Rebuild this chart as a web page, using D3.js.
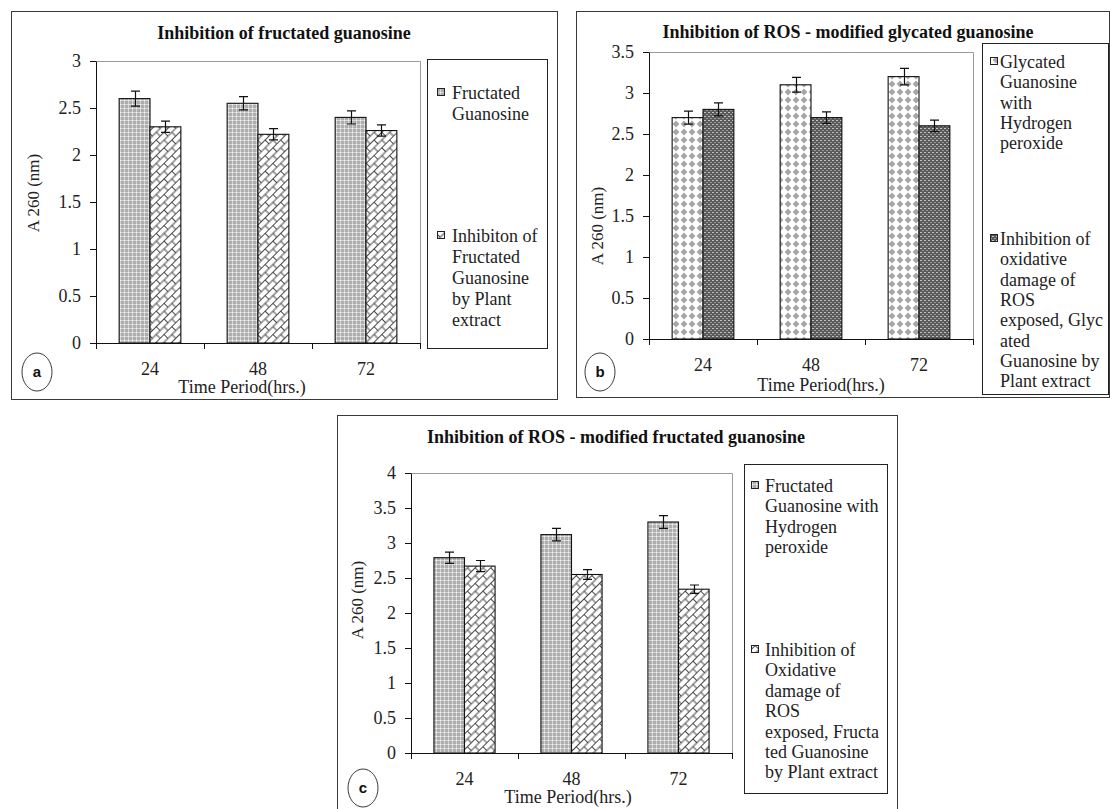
<!DOCTYPE html>
<html><head><meta charset="utf-8">
<script src="https://cdn.jsdelivr.net/npm/d3@7"></script>
<style>
body{margin:0;background:#fff}
svg{display:block}
text{font-family:"Liberation Serif","Times New Roman",serif;fill:#111}
</style>
</head><body>
<svg id="chart" width="1110" height="809"></svg>
<script>
// ---------------- data ----------------
const categories = ["24", "48", "72"];

const aFructated = [2.6, 2.55, 2.4];
const aFructatedErr = [0.08, 0.07, 0.07];
const aInhibition = [2.3, 2.22, 2.26];
const aInhibitionErr = [0.06, 0.06, 0.06];

const bGlycatedH2O2 = [2.7, 3.1, 3.2];
const bGlycatedH2O2Err = [0.08, 0.09, 0.1];
const bInhibition = [2.8, 2.7, 2.6];
const bInhibitionErr = [0.08, 0.07, 0.07];

const cFructatedH2O2 = [2.79, 3.12, 3.3];
const cFructatedH2O2Err = [0.08, 0.09, 0.09];
const cInhibition = [2.67, 2.55, 2.34];
const cInhibitionErr = [0.08, 0.07, 0.06];

const yTicksA = [0, 0.5, 1, 1.5, 2, 2.5, 3];
const yTickLabelsA = ["0", "0.5", "1", "1.5", "2", "2.5", "3"];
const yTicksB = [0, 0.5, 1, 1.5, 2, 2.5, 3, 3.5];
const yTickLabelsB = ["0", "0.5", "1", "1.5", "2", "2.5", "3", "3.5"];
const yTicksC = [0, 0.5, 1, 1.5, 2, 2.5, 3, 3.5, 4];
const yTickLabelsC = ["0", "0.5", "1", "1.5", "2", "2.5", "3", "3.5", "4"];

const titleA = "Inhibition of fructated guanosine";
const titleB = "Inhibition of ROS - modified glycated guanosine";
const titleC = "Inhibition of ROS - modified fructated guanosine";
const yAxisTitle = "A 260 (nm)";
const xAxisTitle = "Time Period(hrs.)";

const legendA1 = ["Fructated", "Guanosine"];
const legendA2 = ["Inhibiton of", "Fructated", "Guanosine", "by Plant", "extract"];
const legendB1 = ["Glycated", "Guanosine", "with", "Hydrogen", "peroxide"];
const legendB2 = ["Inhibition of", "oxidative", "damage of", "ROS", "exposed, Glyc", "ated", "Guanosine by", "Plant extract"];
const legendC1 = ["Fructated", "Guanosine with", "Hydrogen", "peroxide"];
const legendC2 = ["Inhibition of", "Oxidative", "damage of", "ROS", "exposed, Fructa", "ted Guanosine", "by Plant extract"];

// ---------------- patterns ----------------
const svg = d3.select("#chart");
svg.append("rect").attr("width", 1110).attr("height", 809).attr("fill", "#fff");
const defs = svg.append("defs");

// light gray fine grid
const pDots = defs.append("pattern").attr("id", "dots").attr("patternUnits", "userSpaceOnUse").attr("width", 4).attr("height", 4);
pDots.append("rect").attr("width", 4).attr("height", 4).attr("fill", "#adadad");
pDots.append("rect").attr("width", 4).attr("height", 1).attr("fill", "#d6d6d6");
pDots.append("rect").attr("width", 1).attr("height", 4).attr("fill", "#d6d6d6");
pDots.append("rect").attr("width", 1).attr("height", 1).attr("fill", "#f2f2f2");

// diagonal brick
const pBrick = defs.append("pattern").attr("id", "brick").attr("patternUnits", "userSpaceOnUse")
  .attr("width", 11).attr("height", 11).attr("patternTransform", "rotate(-45)");
pBrick.append("rect").attr("width", 11).attr("height", 11).attr("fill", "#fff");
pBrick.append("path").attr("d", "M0,0.5H11M0,6H11M0.5,0.5V6M6,6V11")
  .attr("stroke", "#333").attr("stroke-width", 0.9).attr("fill", "none");

// light diamonds
const pDiam = defs.append("pattern").attr("id", "diam").attr("patternUnits", "userSpaceOnUse").attr("width", 8).attr("height", 8);
pDiam.append("rect").attr("width", 8).attr("height", 8).attr("fill", "#fff");
pDiam.append("path").attr("d", "M4,0.6L7.4,4L4,7.4L0.6,4Z").attr("fill", "#a6a6a6");

// dark checker
const pDark = defs.append("pattern").attr("id", "dark").attr("patternUnits", "userSpaceOnUse").attr("width", 4).attr("height", 4);
pDark.append("rect").attr("width", 4).attr("height", 4).attr("fill", "#5a5a5a");
pDark.append("rect").attr("x", 0).attr("y", 0).attr("width", 2).attr("height", 1).attr("fill", "#c4c4c4");
pDark.append("rect").attr("x", 2).attr("y", 2).attr("width", 2).attr("height", 1).attr("fill", "#9a9a9a");

// ---------------- layout ----------------
const panels = [
  {
    box: [11, 11, 546, 388], plot: { l: 96, r: 420, t: 61, b: 343 }, yMax: 3,
    yTicks: yTicksA, yTickLabels: yTickLabelsA,
    series: [
      { values: aFructated, err: aFructatedErr, fill: "url(#dots)" },
      { values: aInhibition, err: aInhibitionErr, fill: "url(#brick)" }
    ],
    title: titleA, titlePos: [284, 39],
    legend: { box: [427, 59, 120, 289], markerX: 437, textX: 452, lh: 21,
      items: [{ lines: legendA1, y0: 99 }, { lines: legendA2, y0: 242 }] },
    circle: [37, 372, "a"], ylabel: [33, 193], xlabel: [242, 393]
  },
  {
    box: [576, 11, 533, 386], plot: { l: 649, r: 973, t: 52, b: 339 }, yMax: 3.5,
    yTicks: yTicksB, yTickLabels: yTickLabelsB,
    series: [
      { values: bGlycatedH2O2, err: bGlycatedH2O2Err, fill: "url(#diam)" },
      { values: bInhibition, err: bInhibitionErr, fill: "url(#dark)" }
    ],
    title: titleB, titlePos: [848, 38],
    legend: { box: [982, 43, 126, 351], markerX: 990, textX: 1000, lh: 20.3,
      items: [{ lines: legendB1, y0: 68 }, { lines: legendB2, y0: 245 }] },
    circle: [600, 372, "b"], ylabel: [597, 226], xlabel: [821, 391]
  },
  {
    box: [337, 415, 560, 400], plot: { l: 411, r: 732, t: 473, b: 753 }, yMax: 4,
    yTicks: yTicksC, yTickLabels: yTickLabelsC,
    series: [
      { values: cFructatedH2O2, err: cFructatedH2O2Err, fill: "url(#dots)" },
      { values: cInhibition, err: cInhibitionErr, fill: "url(#brick)" }
    ],
    title: titleC, titlePos: [616, 443],
    legend: { box: [744, 464, 143, 329], markerX: 751, textX: 765, lh: 20.4,
      items: [{ lines: legendC1, y0: 492 }, { lines: legendC2, y0: 656 }] },
    circle: [363, 788, "c"], ylabel: [357, 600], xlabel: [568, 803]
  }
];

function drawPanel(p) {
  const g = svg.append("g");
  const { l, r, t, b } = p.plot;
  g.append("rect").attr("x", p.box[0] + 0.5).attr("y", p.box[1] + 0.5)
    .attr("width", p.box[2]).attr("height", p.box[3])
    .attr("fill", "#fff").attr("stroke", "#3a3a3a").attr("stroke-width", 1);

  const y = d3.scaleLinear().domain([0, p.yMax]).range([b, t]);
  const x0 = d3.scaleBand().domain(categories).range([l, r]);
  const x1 = d3.scaleBand().domain(d3.range(p.series.length)).range([0, x0.bandwidth()]).paddingOuter(0.75);

  // plot area border (top/right)
  g.append("path").attr("d", `M${l},${t + 0.5}H${r + 0.5}V${b}`)
    .attr("fill", "none").attr("stroke", "#9a9a9a").attr("stroke-width", 1);

  // bars + error bars
  p.series.forEach((s, i) => {
    g.append("g").selectAll("rect").data(s.values).join("rect")
      .attr("x", (d, j) => x0(categories[j]) + x1(i))
      .attr("y", d => y(d))
      .attr("width", x1.bandwidth())
      .attr("height", d => y(0) - y(d))
      .attr("fill", s.fill).attr("stroke", "#111").attr("stroke-width", 1.1);
    const eg = g.append("g").attr("stroke", "#111").attr("stroke-width", 1.2);
    s.values.forEach((d, j) => {
      const cx = Math.round(x0(categories[j]) + x1(i) + x1.bandwidth() / 2) + 0.5;
      const y1 = y(d + s.err[j]), y2 = y(d - s.err[j]);
      eg.append("path").attr("fill", "none")
        .attr("d", `M${cx},${y1}V${y2}M${cx - 4.5},${y1}H${cx + 4.5}M${cx - 4.5},${y2}H${cx + 4.5}`);
    });
  });

  // y axis
  const ya = g.append("g").attr("transform", `translate(${l},0)`)
    .call(d3.axisLeft(y).tickValues(p.yTicks).tickFormat((d, i) => p.yTickLabels[i]).tickSize(6).tickPadding(9).tickSizeOuter(0));
  ya.attr("font-family", null).attr("font-size", null);
  ya.select(".domain").attr("stroke", "#111");
  ya.selectAll(".tick line").attr("stroke", "#111");
  ya.selectAll(".tick text").attr("font-size", 18).style("fill", "#222");

  // x axis: line + boundary ticks + centered labels
  const xa = g.append("g").attr("transform", `translate(0,${b})`)
    .call(d3.axisBottom(x0).tickSize(0).tickPadding(19));
  xa.attr("font-family", null).attr("font-size", null);
  xa.select(".domain").remove();
  xa.selectAll(".tick text").attr("font-size", 18).style("fill", "#222");
  const bounds = categories.map(c => x0(c)).concat([x0.range()[1]]);
  g.append("path").attr("fill", "none").attr("stroke", "#111").attr("stroke-width", 1)
    .attr("d", `M${l},${b + 0.5}H${r + 1}` + bounds.map(xb => `M${Math.round(xb) + 0.5},${b}V${b + 6}`).join(""));

  // titles
  g.append("text").attr("x", p.titlePos[0]).attr("y", p.titlePos[1]).attr("text-anchor", "middle")
    .attr("font-size", 18).attr("font-weight", "bold").text(p.title);
  g.append("text").attr("transform", `translate(${p.ylabel[0]},${p.ylabel[1]}) rotate(-90)`)
    .attr("dy", "0.35em").attr("text-anchor", "middle").attr("font-size", 17).style("fill", "#222").text(yAxisTitle);
  g.append("text").attr("x", p.xlabel[0]).attr("y", p.xlabel[1]).attr("text-anchor", "middle")
    .attr("font-size", 18).style("fill", "#222").text(xAxisTitle);

  // legend
  const L = p.legend;
  g.append("rect").attr("x", L.box[0] + 0.5).attr("y", L.box[1] + 0.5).attr("width", L.box[2]).attr("height", L.box[3])
    .attr("fill", "#fff").attr("stroke", "#222").attr("stroke-width", 1);
  L.items.forEach((it, i) => {
    g.append("rect").attr("x", L.markerX + 0.5).attr("y", it.y0 - 11 + 0.5).attr("width", 7).attr("height", 7)
      .attr("fill", p.series[i].fill).attr("stroke", "#222").attr("stroke-width", 1);
    const tx = g.append("text").attr("font-size", 18).style("fill", "#222");
    it.lines.forEach((line, k) => {
      tx.append("tspan").attr("x", L.textX).attr("y", it.y0 + k * L.lh).text(line);
    });
  });

  // panel letter in ellipse
  g.append("ellipse").attr("cx", p.circle[0]).attr("cy", p.circle[1]).attr("rx", 15).attr("ry", 19)
    .attr("fill", "#fff").attr("stroke", "#222").attr("stroke-width", 0.9);
  g.append("text").attr("x", p.circle[0]).attr("y", p.circle[1]).attr("dy", "0.35em").attr("text-anchor", "middle")
    .attr("font-size", 15).attr("font-weight", "bold").style("font-family", "'Liberation Sans', Arial, sans-serif")
    .text(p.circle[2]);
}

panels.forEach(drawPanel);
</script>
</body></html>
